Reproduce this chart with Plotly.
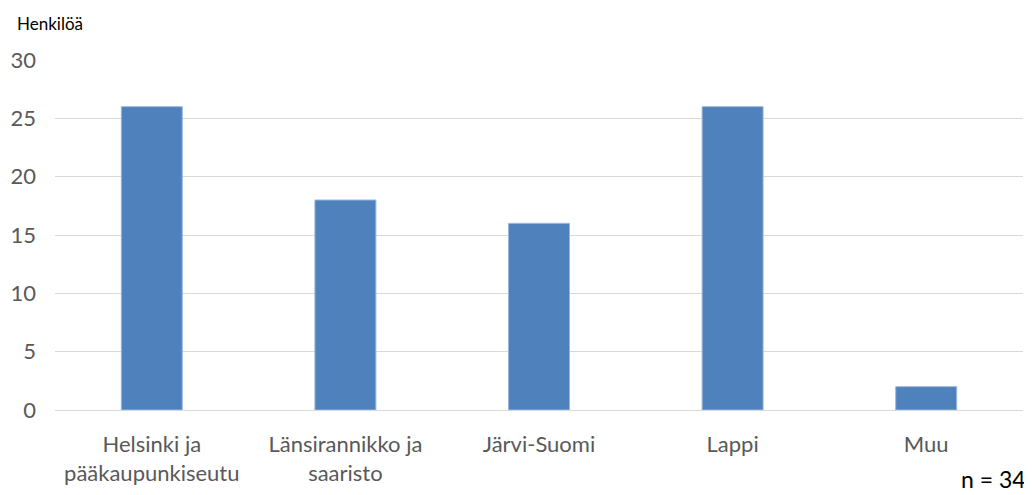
import plotly.graph_objects as go

categories = ['Helsinki ja<br>pääkaupunkiseutu', 'Länsirannikko ja<br>saaristo', 'Järvi-Suomi', 'Lappi', 'Muu']
values = [26, 18, 16, 26, 2]
y_ticks = [0, 5, 10, 15, 20, 25, 30]

fig = go.Figure(go.Bar(x=categories, y=values, marker=dict(color='#4F81BD', line=dict(color='#9DB7DA', width=1))))

# page body has an 8px margin, so margins are offset to compensate
fig.update_layout(width=1032, height=495, plot_bgcolor='white', paper_bgcolor='white',
                  margin=dict(l=47, r=17, t=52, b=93, autoexpand=False), bargap=0.685, showlegend=False,
                  font=dict(family='Lato', color='#595959', size=22))
fig.update_yaxes(range=[0, 30], tickvals=y_ticks, showgrid=True, gridcolor='#D9D9D9', gridwidth=1,
                 zeroline=True, zerolinecolor='#D9D9D9', zerolinewidth=1, ticks='', automargin=False,
                 ticklabelstandoff=18, tickfont=dict(size=22, color='#595959'))
fig.update_xaxes(showline=False, ticks='', automargin=False, tickfont=dict(size=22, color='#595959'),
                 ticklabelstandoff=19)

fig.add_annotation(text='Henkilöä', xref='paper', yref='paper', x=-0.041, y=1.103, xanchor='left',
                   yanchor='middle', showarrow=False, font=dict(size=17, color='black'))
fig.add_annotation(text='n = 34', xref='paper', yref='paper', x=1.005, y=-0.198, xanchor='right',
                   yanchor='middle', showarrow=False, font=dict(family='Lato', size=23, color='black'))

fig.write_html('out.html')
